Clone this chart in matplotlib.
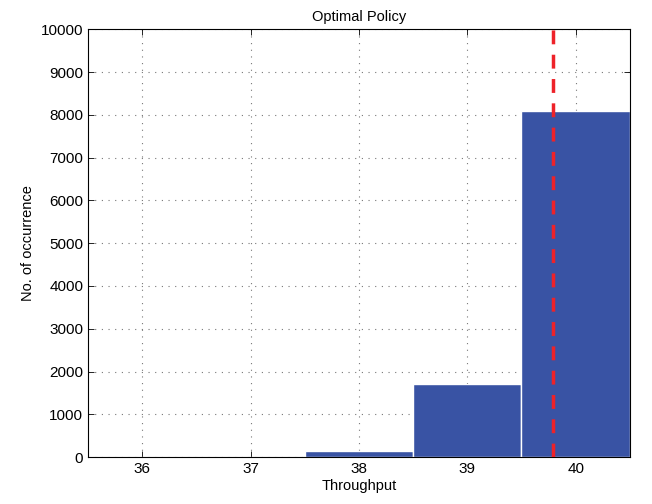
import matplotlib

matplotlib.use("Agg")
import matplotlib.pyplot as plt

# histogram of throughput under the optimal policy
bins = [36, 37, 38, 39, 40]
counts = [3, 8, 150, 1700, 8090]
mean_throughput = 39.79

plt.rcParams["font.family"] = ["Liberation Sans", "DejaVu Sans"]
plt.rcParams["font.size"] = 10.5

fig = plt.figure(figsize=(6.52, 5.04), dpi=100)
ax = fig.add_axes([0.135, 0.093, 0.831, 0.849])

ax.bar(bins, counts, width=1.0, color="#3953a4", edgecolor="white", linewidth=1.0, zorder=2)
ax.axvline(mean_throughput, color="#ee2229", linestyle=(0, (4, 3)), linewidth=2.5, zorder=3)

ax.set_xlim(35.5, 40.5)
ax.set_ylim(0, 10000)
ax.set_xticks(bins)
ax.set_yticks(range(0, 10001, 1000))
ax.grid(True, linestyle=(0, (1, 5)), color="#777777", linewidth=0.8, zorder=0)
ax.set_axisbelow(True)
ax.tick_params(direction="in", top=True, right=True, length=4, width=0.6, labelsize=11)
for s in ax.spines.values():
    s.set_linewidth(0.8)

ax.set_title("Optimal Policy", fontsize=10.5)
ax.set_xlabel("Throughput", labelpad=2)
ax.set_ylabel("No. of occurrence")

fig.savefig("out.png", dpi=100)
